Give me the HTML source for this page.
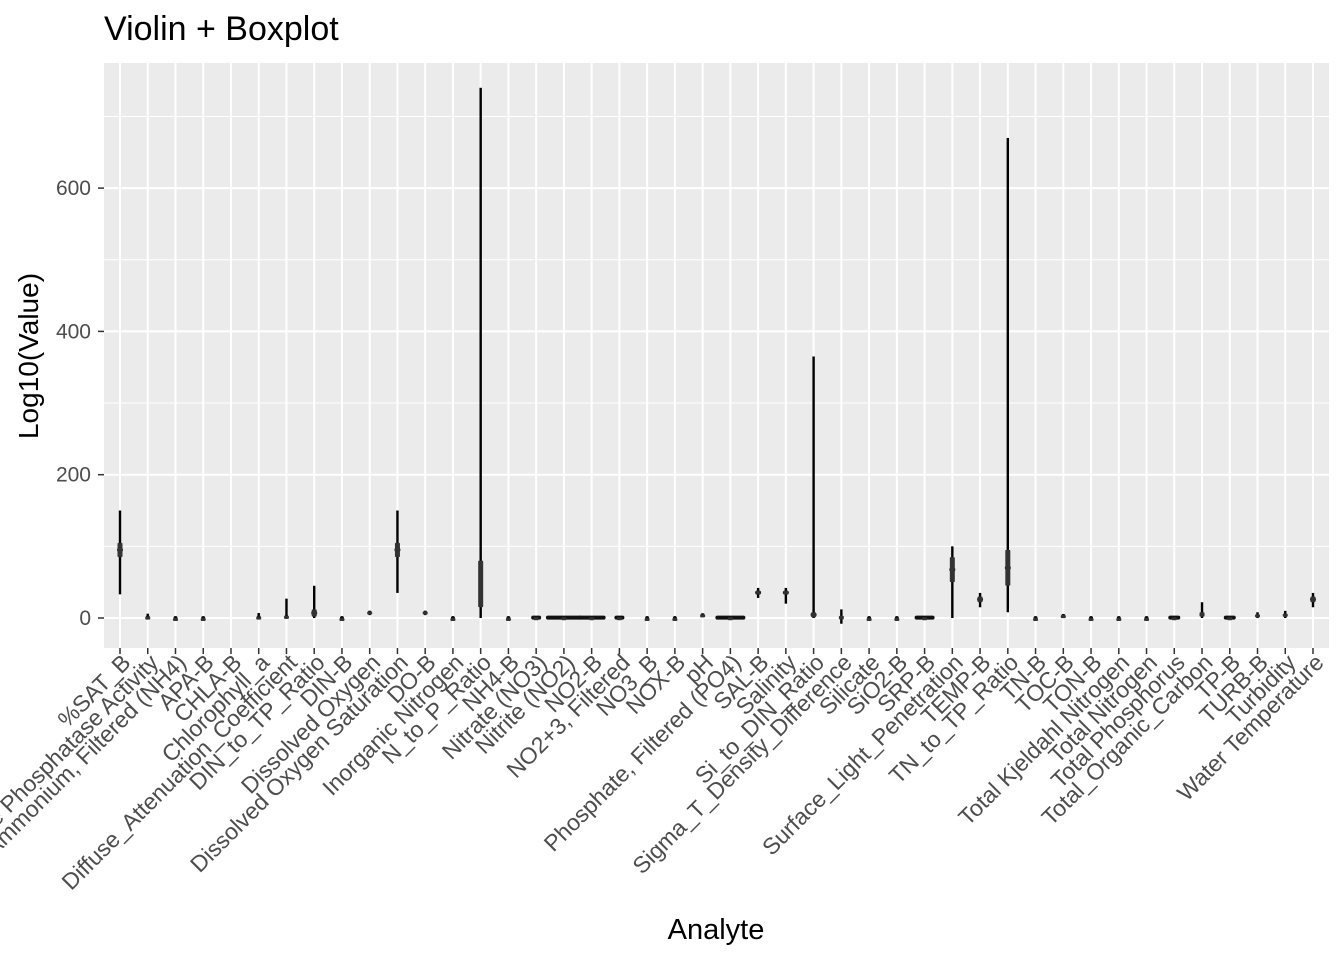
<!DOCTYPE html>
<html><head><meta charset="utf-8"><style>body{margin:0;background:#fff}svg{display:block;font-family:"Liberation Sans",sans-serif}</style></head>
<body>
<svg id="chart" width="1344" height="960">
<text x="104" y="40" font-size="34" fill="#000">Violin + Boxplot</text>
<rect x="104" y="63" width="1225" height="585" fill="#ebebeb"/>
<g id="grid"></g><g id="marks"></g><g id="axes"></g>
<text x="716" y="939" font-size="29" text-anchor="middle">Analyte</text>
<text transform="translate(38,356) rotate(-90)" font-size="28" text-anchor="middle">Log10(Value)</text>
</svg>
<script>
const categories=["%SAT_B","Alkaline Phosphatase Activity","Ammonium, Filtered (NH4)","APA-B","CHLA-B","Chlorophyll_a","Diffuse_Attenuation_Coefficient","DIN_to_TP_Ratio","DIN-B","Dissolved Oxygen","Dissolved Oxygen Saturation","DO-B","Inorganic Nitrogen","N_to_P_Ratio","NH4-B","Nitrate (NO3)","Nitrite (NO2)","NO2-B","NO2+3, Filtered","NO3_B","NOX-B","pH","Phosphate, Filtered (PO4)","SAL-B","Salinity","Si_to_DIN_Ratio","Sigma_T_Density_Difference","Silicate","SiO2-B","SRP-B","Surface_Light_Penetration","TEMP-B","TN_to_TP_Ratio","TN-B","TOC-B","TON-B","Total Kjeldahl Nitrogen","Total Nitrogen","Total Phosphorus","Total_Organic_Carbon","TP-B","TURB-B","Turbidity","Water Temperature"];
const minVals=[33,0,0,0,null,0,0,0,0,4,35,4,0,0,0,0,0,0,0,0,0,3,0,28,20,0,-8,0,0,0,0,15,8,0,1,0,0,0,0,0,0,0,0,15];
const maxVals=[150,6,1,1,null,7,27,45,1,10,150,10,1,740,1,2,2,2,2,1,1,5,2,42,42,365,12,1,1,2,100,35,670,1,5,1,1,1,2,22,2,8,10,35];
const q1Vals=[85,0,0,0,null,0,0,2,0,6,85,6,0,15,0,0,0,0,0,0,0,3,0,33,33,1,-2,0,0,0,50,22,45,0,2,0,0,0,0,2,0,1,2,22];
const q3Vals=[105,2,0,0,null,2,3,12,0,9,105,9,0,80,0,1,1,1,1,0,0,5,1,38,38,8,3,0,0,1,85,30,95,0,4,0,0,0,1,8,1,5,6,30];
const widths=[3,2,2,2,0,2,2,3,2,2,3,2,2,2,2,5,18,14,5,2,2,2,15,3,3,3,2,2,2,10,3,3,3,2,2,2,2,2,6,2,6,2,2,3];
const yTicks=[0,200,400,600];
const NS="http://www.w3.org/2000/svg";
const L=104,R=1329,T=63,B=648;
const y=v=>618-(v)*143.3/200;
const x=i=>120+i*(1313-120)/43;
function mk(t,a,p){const e=document.createElementNS(NS,t);for(const k in a)e.setAttribute(k,a[k]);p.appendChild(e);return e;}
const grid=document.getElementById('grid'),marks=document.getElementById('marks'),axes=document.getElementById('axes');
[-100,100,300,500,700].forEach(v=>{if(y(v)>T&&y(v)<B){const l=mk('line',{x1:L,x2:R,y1:y(v),y2:y(v),stroke:'#fff','stroke-width':1},grid);

}});
yTicks.forEach(v=>{const l=mk('line',{x1:L,x2:R,y1:y(v),y2:y(v),stroke:'#fff','stroke-width':2},grid);


const t=mk('text',{x:91,y:y(v)+7,'font-size':21,fill:'#4d4d4d','text-anchor':'end'},axes);t.textContent=v;


mk('line',{x1:98,x2:104,y1:y(v),y2:y(v),stroke:'#333','stroke-width':1.5},axes);});
categories.forEach((c,i)=>{const cx=x(i);
const g=mk('line',{x1:cx,x2:cx,y1:T,y2:B,stroke:'#fff','stroke-width':2},grid);


mk('line',{x1:cx,x2:cx,y1:B,y2:B+6,stroke:'#333','stroke-width':1.5},axes);
const t=mk('text',{transform:`translate(${cx+12},${664}) rotate(-45)`,'font-size':23,fill:'#4d4d4d','text-anchor':'end'},axes);t.textContent=c;


if(minVals[i]===null)return;
const g2=mk('g',{},marks);


const y1=y(maxVals[i]),y2=y(minVals[i]),w=widths[i];
mk('rect',{x:cx-1.2,y:y1,width:2.4,height:Math.max(y2-y1,2),fill:'#000'},g2);
const mq=y((q1Vals[i]+q3Vals[i])/2);
mk('rect',{x:cx-w,y:mq-2,width:2*w,height:4,rx:2,fill:'#111'},g2);
const b1=y(q3Vals[i]),b2=y(q1Vals[i]);
mk('rect',{x:cx-2.5,y:b1,width:5,height:Math.max(b2-b1,3),rx:1,fill:'#333'},g2);
});
</script>
</body></html>
